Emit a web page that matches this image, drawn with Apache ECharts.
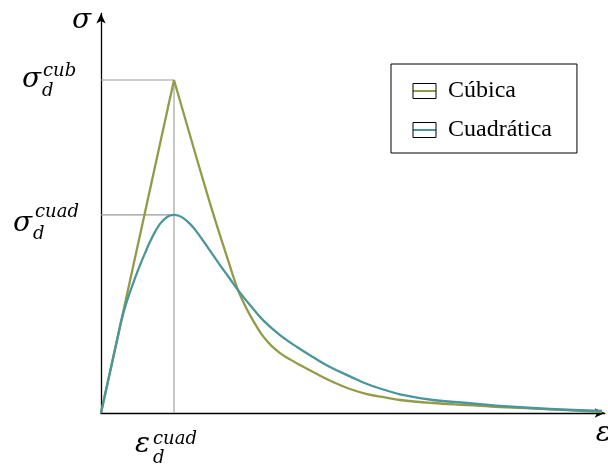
<!DOCTYPE html>
<html>
<head>
<meta charset="utf-8">
<script src="https://cdn.jsdelivr.net/npm/echarts@6/dist/echarts.min.js"></script>
<style>
  html, body { margin: 0; padding: 0; background: #fff; }
  #chart { width: 608px; height: 465px; }
</style>
</head>
<body>
<div id="chart"></div>
<script>
// Strain normalised by ε_d, stress normalised by σ_d of the cubic law.
const cubicStrain = [0, 1, 1.479, 1.740, 1.877, 1.959, 2.041, 2.123, 2.219, 2.329, 2.452, 2.589, 2.726, 2.932, 3.178, 3.411, 3.644, 3.890, 4.096, 4.548, 5.014, 5.466, 6.151, 6.863];
const cubicStress = [0, 1, 0.640, 0.459, 0.369, 0.329, 0.294, 0.263, 0.231, 0.203, 0.180, 0.161, 0.144, 0.120, 0.093, 0.072, 0.057, 0.047, 0.039, 0.030, 0.024, 0.018, 0.011, 0.003];

const quadStrain = [0, 0.151, 0.233, 0.288, 0.342, 0.397, 0.466, 0.534, 0.603, 0.671, 0.740, 0.808, 0.877, 0.945, 1.000, 1.055, 1.123, 1.219, 1.301, 1.397, 1.507, 1.630, 1.753, 1.877, 2.041, 2.219, 2.452, 2.685, 2.904, 3.137, 3.411, 3.644, 3.890, 4.096, 4.548, 5.014, 5.466, 6.151, 6.863];
const quadStress = [0, 0.150, 0.231, 0.285, 0.327, 0.363, 0.405, 0.444, 0.480, 0.514, 0.544, 0.568, 0.584, 0.593, 0.595, 0.593, 0.586, 0.568, 0.547, 0.518, 0.483, 0.444, 0.407, 0.369, 0.324, 0.279, 0.234, 0.198, 0.168, 0.138, 0.110, 0.087, 0.069, 0.056, 0.039, 0.030, 0.021, 0.012, 0.006];

const seriesNames = ['Cúbica', 'Cuadrática'];
const seriesColors = ['#939b48', '#4a969b'];

const xMax = 6.9;
const yMax = 1.2;

const zip = (xs, ys) => xs.map((x, i) => [x, ys[i]]);
const cubicPts = zip(cubicStrain, cubicStress);
const quadPts = zip(quadStrain, quadStress);

const argMax = arr => arr.reduce((b, v, i) => (v > arr[b] ? i : b), 0);
const iCub = argMax(cubicStress);
const iQuad = argMax(quadStress);
const cubPeak = cubicPts[iCub];
const quadPeak = quadPts[iQuad];

// Legend glyph: framed box with the series line through its middle
const boxIcon = 'path://M0,0 M0,4 L23,4 L23,19 L0,19 Z M23,23';

const curveBase = {
  type: 'line',
  showSymbol: false,
  symbol: boxIcon,
  silent: true,
  animation: false,
  z: 3
};

const guideStyle = { color: '#9a9a9a', width: 1.1 };
const curveWidth = 2.3;

const option = {
  animation: false,
  grid: { left: 101, right: 608 - 101 - xMax * 73, top: 413 - yMax * 333, bottom: 52, containLabel: false },
  xAxis: {
    type: 'value', min: 0, max: xMax,
    axisLine: { show: true, onZero: false, symbol: ['none', 'arrow'], symbolSize: [7, 10], lineStyle: { color: '#000', width: 1.3 } },
    axisTick: { show: false }, axisLabel: { show: false }, splitLine: { show: false }
  },
  yAxis: {
    type: 'value', min: 0, max: yMax,
    axisLine: { show: true, onZero: false, symbol: ['none', 'arrow'], symbolSize: [7, 10], lineStyle: { color: '#000', width: 1.3 } },
    axisTick: { show: false }, axisLabel: { show: false }, splitLine: { show: false }
  },
  legend: {
    data: seriesNames,
    orient: 'vertical',
    left: 391,
    top: 64,
    padding: [15, 25, 11, 21],
    itemWidth: 23,
    itemHeight: 28.75,
    itemGap: 15,
    borderColor: '#000',
    borderWidth: 1,
    borderRadius: 0,
    backgroundColor: '#fff',
    itemStyle: { color: 'rgba(0,0,0,0)', borderColor: '#000', borderWidth: 1 },
    textStyle: { fontFamily: 'Liberation Serif', fontSize: 24, color: '#000', padding: [0, 0, 0, 7] },
    selectedMode: false
  },
  series: [
    { type: 'line', name: 'guia-cub', data: [[0, cubPeak[1]], cubPeak, [cubPeak[0], 0]], showSymbol: false, silent: true, lineStyle: guideStyle, z: 1 },
    { type: 'line', name: 'guia-cuad', data: [[0, quadPeak[1]], quadPeak], showSymbol: false, silent: true, lineStyle: guideStyle, z: 1 },
    Object.assign({}, curveBase, { name: seriesNames[0], data: cubicPts.slice(0, iCub + 1), smooth: false,
      lineStyle: { color: seriesColors[0], width: curveWidth }, itemStyle: { color: seriesColors[0] } }),
    Object.assign({}, curveBase, { name: seriesNames[0], data: cubicPts.slice(iCub), smooth: 0.4,
      lineStyle: { color: seriesColors[0], width: curveWidth }, itemStyle: { color: seriesColors[0] } }),
    Object.assign({}, curveBase, { name: seriesNames[1], data: quadPts, smooth: 0.4,
      lineStyle: { color: seriesColors[1], width: curveWidth }, itemStyle: { color: seriesColors[1] }, z: 4 })
  ]
};

const chart = echarts.init(document.getElementById('chart'), null, { renderer: 'canvas' });
chart.setOption(option);

// Math labels placed from the axis scale
const toPx = p => chart.convertToPixel({ gridIndex: 0 }, p);
const [ox, oy] = toPx([0, 0]);
const [xEnd] = toPx([xMax, 0]);
const [, yTop] = toPx([0, yMax]);
const pc = toPx(cubPeak);
const pq = toPx(quadPeak);

const MATH = '"DejaVu Serif", serif';
function mtext(str, left, baseline, size) {
  return {
    type: 'text', x: left, y: baseline - 0.3 * size, silent: true,
    style: { text: str, font: 'italic ' + size + 'px ' + MATH, fill: '#000', align: 'left', verticalAlign: 'middle' }
  };
}
const big = 28, small = 18;

chart.setOption({
  graphic: [
    // axis names
    mtext('σ', ox - 29, yTop + 16, big),
    mtext('ε', xEnd - 9, oy + 29, big),
    // σ_d^cub
    mtext('σ', ox - 79, pc[1] + 8, big),
    mtext('cub', ox - 58, pc[1] - 3, small),
    mtext('d', ox - 59, pc[1] + 16.5, small),
    // σ_d^cuad
    mtext('σ', ox - 88, pq[1] + 17, big),
    mtext('cuad', ox - 66, pq[1] + 3, small),
    mtext('d', ox - 68, pq[1] + 25, small),
    // ε_d^cuad
    mtext('ε', pq[0] - 39, oy + 40, big),
    mtext('cuad', pq[0] - 21, oy + 32, small),
    mtext('d', pq[0] - 21, oy + 51, small)
  ]
});
</script>
</body>
</html>
